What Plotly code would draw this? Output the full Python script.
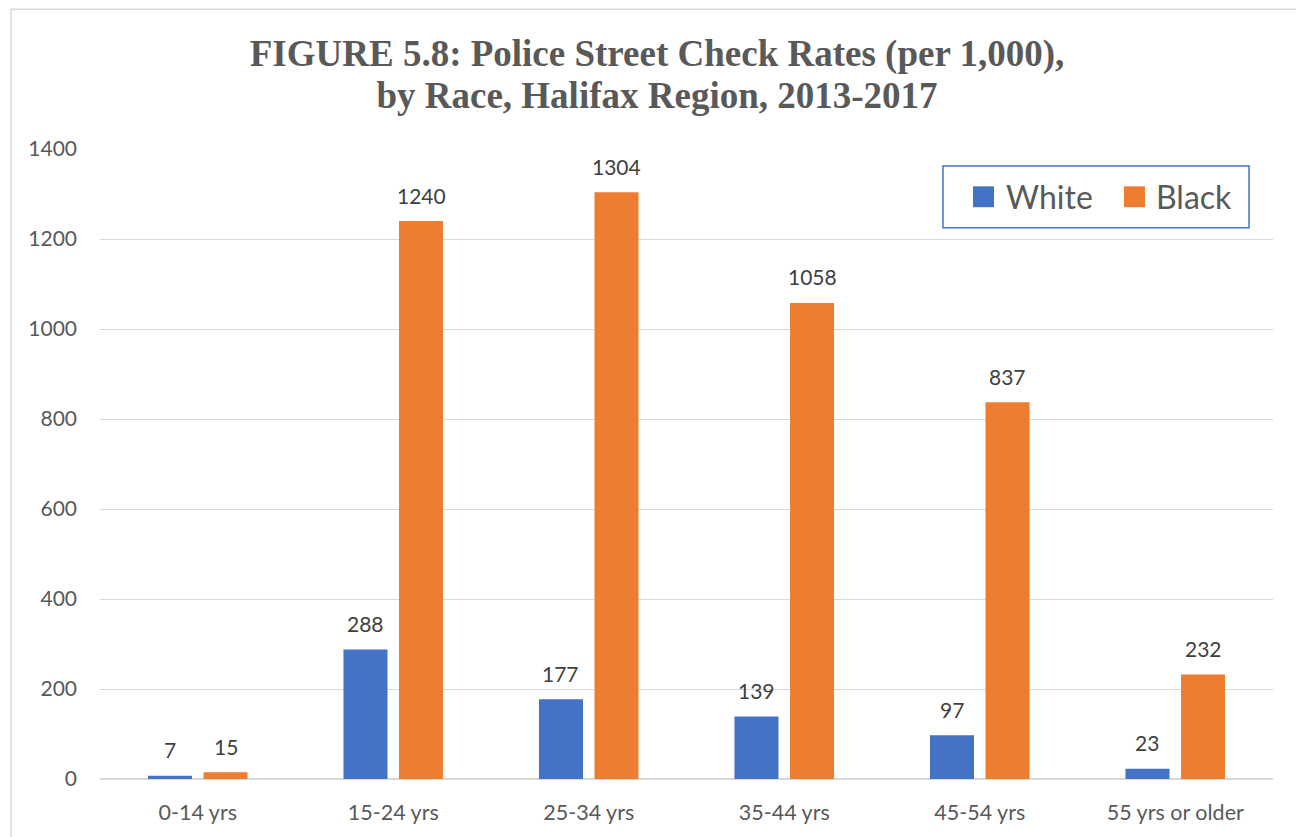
import plotly.graph_objects as go

# ---- data ----
categories = ["0-14 yrs", "15-24 yrs", "25-34 yrs", "35-44 yrs", "45-54 yrs", "55 yrs or older"]
white_rates = [7, 288, 177, 139, 97, 23]
black_rates = [15, 1240, 1304, 1058, 837, 232]
series_names = ["White", "Black"]
y_tick_values = [0, 200, 400, 600, 800, 1000, 1200, 1400]
title_lines = ["FIGURE 5.8: Police Street Check Rates (per 1,000),",
               "by Race, Halifax Region, 2013-2017"]

# ---- styling / layout (page pixel coords; the page body has an 8px margin) ----
OFF = 8
W, H = 1304 - OFF, 837 - OFF
PLOT_L, PLOT_R, PLOT_T, PLOT_B = 100, 1273, 149, 782   # page coords of plot area
L, T = PLOT_L - OFF, PLOT_T - OFF
R, B = W - (PLOT_R - OFF), H - (PLOT_B - OFF)
PW, PH = PLOT_R - PLOT_L, PLOT_B - PLOT_T
COLORS = ["#4472C4", "#ED7D31"]
TXT = "#595959"
LBL = "#404040"
FONT = "Lato"


def px_x(p):
    return (p - PLOT_L) / PW


def px_y(p):
    return (PLOT_B - p) / PH


BARGAP, GROUPGAP = 0.432, 0.207

fig = go.Figure()
for name, vals, col in zip(series_names, [white_rates, black_rates], COLORS):
    fig.add_trace(go.Bar(x=categories, y=vals, name=name, marker=dict(color=col, line=dict(width=0)),
                         showlegend=False, hoverinfo="x+y+name"))

# data labels
slot = PW / len(categories) * (1 - BARGAP) / 2
annotations = []
for j, vals in enumerate([white_rates, black_rates]):
    for c, v in zip(categories, vals):
        annotations.append(dict(x=c, y=v, xref="x", yref="y", text=str(v), showarrow=False,
                                xshift=(j - 0.5) * slot, yshift=26, yanchor="middle",
                                font=dict(family=FONT, size=21, color=LBL)))

# chart frame + legend box
shapes = [
    dict(type="rect", xref="paper", yref="paper", x0=px_x(11), x1=px_x(1301), y0=px_y(860), y1=px_y(8.5),
         line=dict(color="#D9D9D9", width=1.5), fillcolor="rgba(0,0,0,0)", layer="below"),
    dict(type="rect", xref="paper", yref="paper", x0=px_x(943), x1=px_x(1249), y0=px_y(228), y1=px_y(166),
         line=dict(color="#4472C4", width=1.5), fillcolor="white", layer="above"),
]
leg_sq = [973, 1124]
leg_txt = [1004, 1154]
for name, col, sx, tx in zip(series_names, COLORS, leg_sq, leg_txt):
    shapes.append(dict(type="rect", xref="paper", yref="paper", x0=px_x(sx), x1=px_x(sx + 21),
                       y0=px_y(207.5), y1=px_y(186.5), line=dict(width=0), fillcolor=col, layer="above"))
    annotations.append(dict(x=px_x(tx), y=px_y(197), xref="paper", yref="paper", text=name,
                            showarrow=False, xanchor="left", yanchor="middle",
                            font=dict(family=FONT, size=32, color=TXT)))

title_html = "<br>".join('<span style="font-size:37px">%s</span>' % t for t in title_lines)

fig.update_layout(
    width=W, height=H,
    margin=dict(l=L, r=R, t=T, b=B),
    paper_bgcolor="white", plot_bgcolor="white",
    barmode="group", bargap=BARGAP, bargroupgap=GROUPGAP,
    title=dict(text="<b>" + title_html + "</b>",
               x=(657 - OFF) / W, xref="container", xanchor="center",
               y=1 - (58 - OFF + 8) / H, yref="container", yanchor="middle",
               font=dict(family="Liberation Serif", size=32.3, color=TXT)),
    font=dict(family=FONT, color=TXT),
    shapes=shapes,
    annotations=annotations,
)
fig.update_yaxes(range=[0, 1400], tickvals=y_tick_values, showgrid=True, gridcolor="#D9D9D9", gridwidth=1,
                 zeroline=True, zerolinecolor="#D9D9D9", zerolinewidth=1.5, showline=False,
                 tickfont=dict(family=FONT, size=21, color=TXT), ticklabelstandoff=22)
fig.update_xaxes(showgrid=False, showline=False, tickfont=dict(family=FONT, size=21.5, color=TXT),
                 ticklabelstandoff=18)

fig.write_html("out.html")
